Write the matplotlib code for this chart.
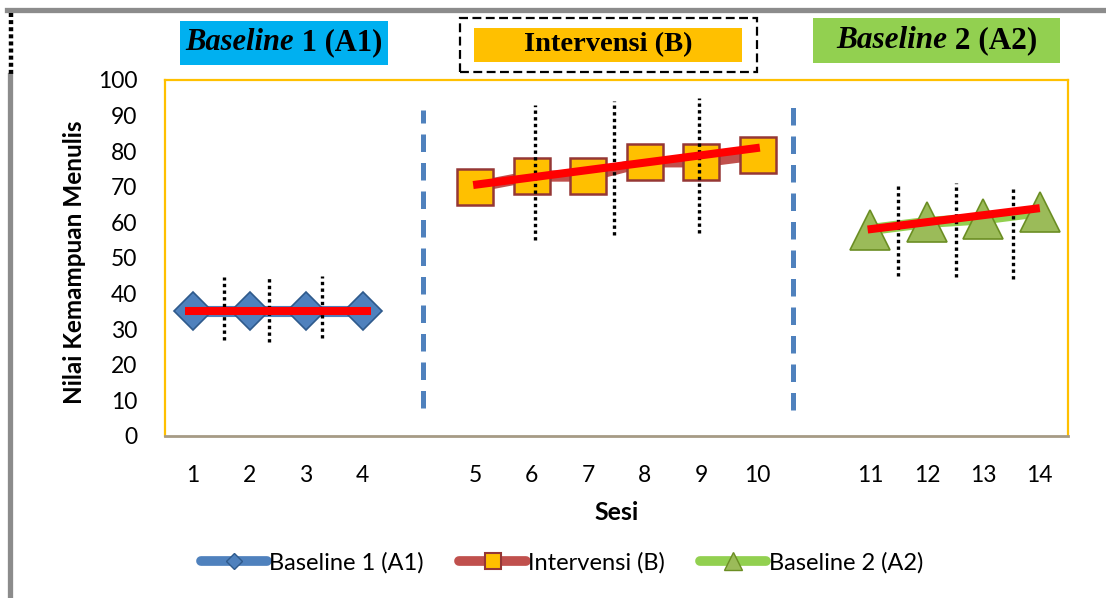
import matplotlib
matplotlib.use("Agg")
import matplotlib.pyplot as plt
from matplotlib.lines import Line2D
from matplotlib.patches import Rectangle
import numpy as np

plt.rcParams["font.family"] = ["Lato", "DejaVu Sans"]

# --- data ---
tick_labels = [str(i) for i in range(1, 15)]
tick_slots = [1, 2, 3, 4, 6, 7, 8, 9, 10, 11, 13, 14, 15, 16]

a1_slots = [1, 2, 3, 4]
a1_vals = [35, 35, 35, 35]
b_slots = [6, 7, 8, 9, 10, 11]
b_vals = [70, 73, 73, 77, 77, 79]
a2_slots = [13, 14, 15, 16]
a2_vals = [58, 60, 61, 63]

# hand drawn trend lines (slot ends, value ends)
trend_a1_x, trend_a1_y = [0.85, 4.15], [35, 35]
trend_b_x, trend_b_y = [5.96, 11.04], [70.5, 81]
trend_a2_x, trend_a2_y = [12.95, 16.0], [58, 64]

# dotted stability markers: slot, low, high
env_x = [1.55, 2.35, 3.29, 7.05, 8.46, 9.97, 13.48, 14.51, 15.52]
env_lo = [27, 26.4, 27.5, 55, 56.5, 57, 45, 44.7, 44]
env_hi = [44.7, 44.4, 45, 93, 94, 95, 71, 71, 70]

# phase change lines: slot, low, high
phase_x = [5.08, 11.62]
phase_lo = [7.9, 7.3]
phase_hi = [91.6, 94]

W, H = 1106, 598
fig = plt.figure(figsize=(W / 100, H / 100), dpi=100)
ax = fig.add_axes([165 / W, 1 - 436 / H, (1068 - 165) / W, (436 - 80) / H])

gold = "#FFC000"
ax.plot(a1_slots, a1_vals, color="#4F81BD", lw=8, marker="D", ms=19,
        mfc="#4F81BD", mec="#2F5A8C", mew=1.2, zorder=3)
ax.plot(b_slots, b_vals, color="#C0504D", lw=8, marker="s", ms=26,
        mfc="#FFC000", mec="#953735", mew=1.8, zorder=3)
ax.plot(a2_slots, a2_vals, color="#92D050", lw=8, marker="^", ms=29,
        mfc="#9BBB59", mec="#6B8E23", mew=1.2, zorder=3)

for x, lo, hi in zip(env_x, env_lo, env_hi):
    ax.plot([x, x], [lo, hi], color="black", lw=2.4, ls=(0, (1, 1)), zorder=4)

for x, lo, hi in zip(phase_x, phase_lo, phase_hi):
    ax.plot([x, x], [lo, hi], color="#4F81BD", lw=3.6, ls=(0, (3.5, 2.2)), zorder=2)

for tx, ty in [(trend_a1_x, trend_a1_y), (trend_b_x, trend_b_y), (trend_a2_x, trend_a2_y)]:
    ax.plot(tx, ty, color="#FF0000", lw=5.8, solid_capstyle="butt", zorder=5)

ax.set_xlim(0.5, 16.5)
ax.set_ylim(0, 100)
ax.set_yticks(np.arange(0, 101, 10))
ax.set_xticks(tick_slots)
ax.set_xticklabels(tick_labels)
ax.tick_params(axis="both", length=0, labelsize=16.5)
ax.tick_params(axis="y", pad=20)
ax.tick_params(axis="x", pad=21)
for s in ["left", "top", "right"]:
    ax.spines[s].set_color(gold)
    ax.spines[s].set_linewidth(1.6)
ax.spines["bottom"].set_color("#A69B85")
ax.spines["bottom"].set_linewidth(2)

ax.set_xlabel("Sesi", fontsize=18, fontweight="bold", labelpad=11)
fig.text(75 / W, 1 - 262 / H, "Nilai Kemampuan Menulis", rotation=90,
         fontsize=17.5, fontweight="bold", ha="center", va="center")

# legend
handles = [
    Line2D([], [], color="#4F81BD", lw=7, solid_capstyle="round", marker="D", ms=8,
           mfc="#4F81BD", mec="#2F5A8C"),
    Line2D([], [], color="#C0504D", lw=7, solid_capstyle="round", marker="s", ms=11,
           mfc="#FFC000", mec="#953735", mew=1.5),
    Line2D([], [], color="#92D050", lw=7, solid_capstyle="round", marker="^", ms=13,
           mfc="#9BBB59", mec="#6B8E23"),
]
fig.legend(handles, ["Baseline 1 (A1)", "Intervensi (B)", "Baseline 2 (A2)"],
           loc="center", bbox_to_anchor=(562 / W, 1 - 563 / H), ncol=3, frameon=False,
           fontsize=17, handlelength=2.8, handletextpad=0.1, columnspacing=1.5)

# outer frame
fig.add_artist(Line2D([7 / W, 1], [1 - 10 / H] * 2, color="#8C8C8C", lw=3.8, transform=fig.transFigure))
fig.add_artist(Line2D([9.5 / W] * 2, [0, 1 - 75 / H], color="#8C8C8C", lw=3.8, transform=fig.transFigure))
fig.add_artist(Line2D([11 / W] * 2, [1 - 13 / H, 1 - 76 / H], color="black", lw=3.2,
                      ls=(0, (0.9, 0.7)), transform=fig.transFigure))

# phase headers
renderer = fig.canvas.get_renderer()


def header(x0, y0, x1, y1, color, ital, rest, size):
    fig.add_artist(Rectangle((x0 / W, 1 - y1 / H), (x1 - x0) / W, (y1 - y0) / H,
                             facecolor=color, edgecolor="none", transform=fig.transFigure))
    yc = 1 - (y0 + y1) / 2 / H
    kw = dict(family="Liberation Serif", fontweight="bold", fontsize=size, va="center")
    if ital:
        t1 = fig.text(0, yc, ital, style="italic", **kw)
        t2 = fig.text(0, yc, rest, **kw)
        w1 = t1.get_window_extent(renderer).width
        w2 = t2.get_window_extent(renderer).width
        start = (x0 + x1) / 2 - (w1 + w2) / 2
        t1.set_position((start / W, yc))
        t2.set_position(((start + w1) / W, yc))
    else:
        fig.text((x0 + x1) / 2 / W, yc, rest, ha="center", **kw)


header(180, 21, 388, 65, "#00B0F0", "Baseline", " 1 (A1)", 22)
header(474, 28, 742, 62, "#FFC000", None, "Intervensi (B)", 20.5)
header(813, 18, 1060, 63, "#92D050", "Baseline", " 2 (A2)", 22.5)
fig.add_artist(Rectangle((460 / W, 1 - 72 / H), 297 / W, 54 / H, facecolor="none",
                         edgecolor="black", lw=1.6, ls=(0, (4, 2)), transform=fig.transFigure))

fig.savefig("out.png", dpi=100)
